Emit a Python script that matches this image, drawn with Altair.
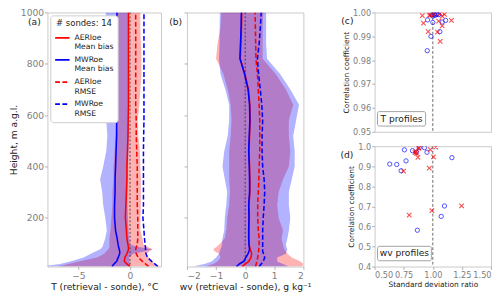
import altair as alt
import pandas as pd

FONT = "DejaVu Sans"

# ---------------- profile data (height in m a.g.l.) ----------------
heights = [10, 20, 30, 45, 60, 70, 77, 85, 95, 120, 150, 200, 250, 300, 350,
           400, 460, 520, 580, 640, 700, 760, 820, 880, 940, 1000]

# Temperature (retrieval - sonde), degC
t_aeri_mean = [0.0, -0.3, -0.55, -0.5, -0.3, -0.2, -0.15, -0.15, -0.2, -0.3, -0.35, -0.45, -0.4,
               -0.35, -0.3, -0.3, -0.25, -0.2, -0.18, -0.15, -0.15, -0.15, -0.15, -0.15, -0.15, -0.15]
t_mwr_mean = [-1.75, -1.55, -1.3, -1.15, -1.0, -1.0, -1.05, -1.1, -1.15, -1.25, -1.4, -1.5, -1.5,
              -1.45, -1.45, -1.4, -1.35, -1.3, -1.3, -1.28, -1.28, -1.27, -1.27, -1.27, -1.27, -1.27]
t_aeri_rmse = [1.8, 1.5, 1.2, 0.8, 0.6, 0.55, 0.55, 0.6, 0.7, 0.75, 0.75, 0.75, 0.7,
               0.7, 0.7, 0.7, 0.65, 0.6, 0.6, 0.55, 0.55, 0.55, 0.55, 0.55, 0.55, 0.55]
t_mwr_rmse = [2.7, 2.4, 2.1, 1.7, 1.55, 1.5, 1.5, 1.5, 1.45, 1.4, 1.35, 1.25, 1.3,
              1.3, 1.3, 1.3, 1.3, 1.32, 1.35, 1.35, 1.35, 1.35, 1.35, 1.35, 1.35, 1.35]
t_aeri_lo = [-7.0, -6.0, -5.0, -3.2, -2.5, -2.3, -2.1, -2.0, -2.0, -2.0, -1.9, -1.8, -1.7,
             -1.7, -1.6, -1.6, -1.5, -1.4, -1.3, -1.4, -1.3, -1.25, -1.25, -1.3, -1.3, -1.3]
t_aeri_hi = [2.9, 2.5, 2.2, 1.8, 1.6, 1.9, 2.2, 1.8, 1.3, 1.2, 1.0, 1.0, 1.05,
             1.05, 1.05, 1.0, 0.95, 0.8, 0.75, 0.9, 1.0, 1.1, 1.1, 1.05, 1.0, 1.0]
t_mwr_lo = [-8.5, -6.8, -5.8, -4.5, -3.8, -3.3, -2.9, -2.7, -2.6, -2.4, -2.25, -2.4, -2.6,
            -2.7, -2.9, -2.6, -2.3, -2.2, -2.3, -2.4, -2.4, -2.4, -2.4, -2.35, -2.35, -2.35]
t_mwr_hi = [0.0, 0.0, -0.05, -0.1, 0.3, 1.5, 2.2, 1.0, 0.0, -0.1, -0.15, -0.2, -0.25,
            -0.25, -0.25, -0.2, -0.15, -0.1, -0.1, -0.1, -0.1, -0.1, -0.1, -0.1, -0.1, -0.1]

# Water vapour (retrieval - sonde), g/kg
w_aeri_mean = [-0.1, 0.0, 0.12, 0.2, 0.22, 0.2, 0.17, 0.15, 0.14, 0.13, 0.13, 0.14, 0.13,
               0.16, 0.16, 0.15, 0.13, 0.15, 0.17, 0.16, 0.11, -0.01, -0.17, -0.15, -0.13, -0.12]
w_mwr_mean = [-0.3, -0.2, -0.05, 0.02, 0.1, 0.13, 0.15, 0.14, 0.13, 0.12, 0.12, 0.13, 0.12,
              0.15, 0.15, 0.14, 0.12, 0.14, 0.16, 0.15, 0.1, -0.02, -0.18, -0.16, -0.14, -0.13]
w_aeri_rmse = [0.35, 0.38, 0.4, 0.43, 0.45, 0.46, 0.47, 0.47, 0.48, 0.48, 0.45, 0.43, 0.43,
               0.45, 0.47, 0.48, 0.5, 0.5, 0.5, 0.48, 0.45, 0.42, 0.37, 0.36, 0.35, 0.34]
w_mwr_rmse = [0.48, 0.55, 0.62, 0.67, 0.63, 0.6, 0.6, 0.6, 0.6, 0.6, 0.6, 0.62, 0.65,
              0.67, 0.65, 0.6, 0.58, 0.58, 0.6, 0.57, 0.52, 0.46, 0.42, 0.48, 0.52, 0.55]
w_aeri_lo = [-1.37, -1.1, -0.95, -0.85, -0.9, -1.05, -1.1, -1.0, -0.9, -0.7, -0.65, -0.62, -0.55,
             -0.52, -0.55, -0.55, -0.55, -0.5, -0.47, -0.5, -0.6, -0.75, -1.0, -0.95, -0.85, -0.82]
w_aeri_hi = [1.95, 2.0, 1.9, 1.6, 1.45, 1.4, 1.35, 1.32, 1.3, 1.25, 1.3, 1.15, 1.1,
             1.15, 1.3, 1.5, 1.55, 1.5, 1.5, 1.65, 1.4, 1.05, 0.6, 0.6, 0.6, 0.62]
w_mwr_lo = [-1.8, -1.4, -1.15, -1.0, -0.9, -0.87, -0.85, -0.82, -0.8, -0.78, -0.72, -0.7, -0.65,
            -0.62, -0.7, -0.78, -0.72, -0.6, -0.55, -0.55, -0.68, -0.85, -0.9, -0.88, -0.88, -0.87]
w_mwr_hi = [1.5, 1.3, 1.1, 1.1, 1.4, 1.42, 1.45, 1.42, 1.4, 1.45, 1.5, 1.55, 1.5,
            1.5, 1.6, 1.7, 1.7, 1.65, 1.75, 1.85, 1.55, 1.2, 0.75, 0.72, 0.72, 0.72]

# ---------------- scatter data ----------------
t_mwr_ratio = [0.99, 1.01, 1.037, 1.05, 1.11, 1.08, 1.0, 0.955, 1.06, 0.984, 0.952, 1.0, 1.02, 1.03]
t_mwr_corr = [0.9991, 0.9991, 0.9992, 0.9991, 0.9967, 0.996, 0.9958, 0.9969, 0.992, 0.990, 0.984,
              0.9985, 0.9988, 0.9995]
t_aeri_ratio = [0.91, 0.92, 0.97, 1.08, 1.05, 1.08, 1.16, 0.96, 1.04, 1.063, 1.01, 1.1, 0.98, 1.06]
t_aeri_corr = [0.9987, 0.9955, 0.9988, 0.9985, 0.9964, 0.9944, 0.9967, 0.992, 0.9918, 0.9879,
               0.9992, 0.9992, 0.999, 0.9995]
w_mwr_ratio = [0.756, 0.825, 0.884, 0.928, 0.95, 0.63, 0.69, 0.77, 0.728, 1.164, 1.1, 1.072, 0.867, 0.86]
w_mwr_corr = [0.982, 0.978, 0.993, 0.993, 0.970, 0.911, 0.909, 0.927, 0.878, 0.943, 0.702, 0.65,
              0.581, 0.97]
w_aeri_ratio = [0.847, 0.855, 0.878, 0.872, 0.978, 1.025, 1.006, 0.97, 0.748, 0.992, 1.247, 0.797,
                0.88, 0.86]
w_aeri_corr = [0.968, 0.972, 0.993, 0.944, 0.983, 0.996, 0.947, 0.891, 0.876, 0.679, 0.703, 0.656,
               0.99, 0.965]

series_names = ["AERIoe|Mean bias", "MWRoe|Mean bias", "AERIoe|RMSE", "MWRoe|RMSE"]
line_colors = ["#ff0000", "#0000ff", "#ff0000", "#0000ff"]
line_dashes = [[1, 0], [1, 0], [5, 2.5], [5, 2.5]]

RED = "#ff0000"
BLUE = "#0000ff"
WA, WB, WC = 118, 121, 121
HP = 264
HC, HD = 124, 125
GAP = 27


def lines_df(vals):
    rows = []
    for name, v in zip(series_names, vals):
        for h, x in zip(heights, v):
            rows.append({"series": name, "x": x, "h": h})
    return pd.DataFrame(rows)


def band_df(lo, hi):
    return pd.DataFrame({"h": heights, "lo": lo, "hi": hi})


def profile_panel(vals, red_band, blue_band, xdom, xticks, xtitle, tag, first):
    xs = alt.Scale(domain=xdom, nice=False, zero=False)
    ys = alt.Scale(domain=[10, 1000], nice=False, zero=False)
    xaxis = alt.Axis(values=xticks, title=xtitle, format="d")
    if first:
        yaxis = alt.Axis(values=[200, 400, 600, 800, 1000], format="d", title="Height, m a.g.l.")
    else:
        yaxis = alt.Axis(values=[200, 400, 600, 800, 1000], title=None, labels=False)

    def X(f):
        return alt.X(f, scale=xs, axis=xaxis)

    def Y(f):
        return alt.Y(f, scale=ys, axis=yaxis)

    red_area = alt.Chart(band_df(*red_band)).mark_area(
        color=RED, opacity=0.3, orient="horizontal", clip=True
    ).encode(x=X("lo:Q"), x2=alt.X2("hi:Q"), y=Y("h:Q"))
    blue_area = alt.Chart(band_df(*blue_band)).mark_area(
        color=BLUE, opacity=0.3, orient="horizontal", clip=True
    ).encode(x=X("lo:Q"), x2=alt.X2("hi:Q"), y=Y("h:Q"))
    zero = alt.Chart(pd.DataFrame({"z": [0]})).mark_rule(
        color="#333333", strokeDash=[2, 2], strokeWidth=0.9
    ).encode(x=X("z:Q"))
    if first:
        leg = alt.Legend(
            title="# sondes: 14", orient="top-left", offset=3,
            labelExpr="split(datum.label, '|')",
            symbolType="stroke", symbolSize=225, symbolStrokeWidth=1.8,
            fillColor="white", strokeColor="#cccccc", cornerRadius=3, padding=4,
            labelFontSize=8, titleFontSize=8.8, titleFontWeight="normal",
            titleColor="#222222", labelColor="#222222", rowPadding=0, titlePadding=2,
            labelOffset=4, titleAnchor="middle", titleFont=FONT, labelFont=FONT,
        )
    else:
        leg = None
    lines = alt.Chart(lines_df(vals)).mark_line(strokeWidth=1.6, clip=True).encode(
        x=X("x:Q"), y=Y("h:Q"),
        color=alt.Color("series:N", scale=alt.Scale(domain=series_names, range=line_colors), legend=leg),
        strokeDash=alt.StrokeDash("series:N", scale=alt.Scale(domain=series_names, range=line_dashes), legend=leg),
        order="h:Q",
    )
    label = alt.Chart(pd.DataFrame({"t": [tag]})).mark_text(
        align="right", baseline="middle", fontSize=9.5, font=FONT, color="#222222"
    ).encode(text="t:N", x=alt.value(-7 if first else -5), y=alt.value(10))
    return alt.layer(red_area, blue_area, zero, lines, label).properties(width=WA if first else WB, height=HP)


panel_a = profile_panel(
    [t_aeri_mean, t_mwr_mean, t_aeri_rmse, t_mwr_rmse],
    (t_aeri_lo, t_aeri_hi), (t_mwr_lo, t_mwr_hi),
    [-8, 3], [-5, 0], "T (retrieval - sonde), °C", "(a)", True)
panel_b = profile_panel(
    [w_aeri_mean, w_mwr_mean, w_aeri_rmse, w_mwr_rmse],
    (w_aeri_lo, w_aeri_hi), (w_mwr_lo, w_mwr_hi),
    [-2, 2], [-2, -1, 0, 1, 2], "wv (retrieval - sonde), g kg⁻¹", "(b)", False)


def scatter_panel(mr, mc, ar, ac, ydom, yticks, yfmt, h, tag, boxtext, boxw, bottom):
    xs = alt.Scale(domain=[0.5, 1.5], nice=False, zero=False)
    ys = alt.Scale(domain=ydom, nice=False, zero=False)
    if bottom:
        xaxis = alt.Axis(values=[0.5, 0.75, 1.0, 1.25, 1.5], format=".2f", title="Standard deviation ratio",
                         labelFontSize=8.5, titleFontSize=7.7)
    else:
        xaxis = alt.Axis(values=[0.5, 0.75, 1.0, 1.25, 1.5], labels=False, ticks=False, title=None)
    yaxis = alt.Axis(values=yticks, format=yfmt, title="Correlation coefficient",
                     labelFontSize=8.5, titleFontSize=7.7)

    def X(f):
        return alt.X(f, scale=xs, axis=xaxis)

    def Y(f):
        return alt.Y(f, scale=ys, axis=yaxis)

    one = alt.Chart(pd.DataFrame({"o": [1.0]})).mark_rule(
        color="#666666", strokeDash=[3, 2], strokeWidth=1
    ).encode(x=X("o:Q"))
    circ = alt.Chart(pd.DataFrame({"r": mr, "c": mc})).mark_point(
        shape="circle", filled=False, color=BLUE, size=20, strokeWidth=1, clip=True
    ).encode(x=X("r:Q"), y=Y("c:Q"))
    crs = alt.Chart(pd.DataFrame({"r": ar, "c": ac})).mark_point(
        shape="M-1,-1L1,1M-1,1L1,-1", filled=False, color=RED, size=22, strokeWidth=1.1, clip=True
    ).encode(x=X("r:Q"), y=Y("c:Q"))
    box = alt.Chart(pd.DataFrame({"b": [0]})).mark_rect(
        fill="white", stroke="#888888", strokeWidth=0.8, cornerRadius=2
    ).encode(x=alt.value(3), x2=alt.value(3 + boxw), y=alt.value(h - 21), y2=alt.value(h - 6))
    btxt = alt.Chart(pd.DataFrame({"t": [boxtext]})).mark_text(
        align="center", baseline="middle", fontSize=9.5, font=FONT, color="#222222"
    ).encode(text="t:N", x=alt.value(3 + boxw / 2), y=alt.value(h - 13.5))
    lab = alt.Chart(pd.DataFrame({"t": [tag]})).mark_text(
        align="right", baseline="middle", fontSize=9.5, font=FONT, color="#222222"
    ).encode(text="t:N", x=alt.value(-22), y=alt.value(9))
    return alt.layer(one, circ, crs, box, btxt, lab).properties(width=WC, height=h)


panel_c = scatter_panel(t_mwr_ratio, t_mwr_corr, t_aeri_ratio, t_aeri_corr,
                        [0.95, 1.0], [0.95, 0.96, 0.97, 0.98, 0.99, 1.0], ".2f", HC, "(c)", "T profiles", 50, False)
panel_d = scatter_panel(w_mwr_ratio, w_mwr_corr, w_aeri_ratio, w_aeri_corr,
                        [0.4, 1.0], [0.4, 0.5, 0.6, 0.7, 0.8, 0.9, 1.0], ".1f", HD, "(d)", "wv profiles", 56, True)

# invisible zero-width spacer doubles the gap between panel (b) and the scatter column
spacer = alt.Chart(pd.DataFrame({"s": [0]})).mark_point(opacity=0, size=1).encode(
    x=alt.value(0), y=alt.value(HP / 2)
).properties(width=0, height=HP, view=alt.ViewBackground(stroke="transparent"))

right = alt.vconcat(panel_c, panel_d, spacing=15, bounds="flush")

chart = alt.hconcat(panel_a, panel_b, spacer, right, spacing=GAP, bounds="flush").resolve_scale(
    color="independent", strokeDash="independent"
).resolve_legend(color="independent", strokeDash="independent").properties(
    padding={"top": -7, "left": 0, "right": 0, "bottom": 0}
).configure_view(
    stroke="#c8c8c8", strokeWidth=1
).configure_axis(
    grid=False, domain=False, labelFont=FONT, titleFont=FONT, labelFontSize=9.5, titleFontSize=9.5,
    labelColor="#808080", titleColor="#222222", titleFontWeight="normal",
    tickColor="#b0b0b0", tickSize=3, labelPadding=1, titlePadding=2,
).configure_text(font=FONT)

chart.save("out.html", embed_options={"renderer": "svg", "actions": False})
